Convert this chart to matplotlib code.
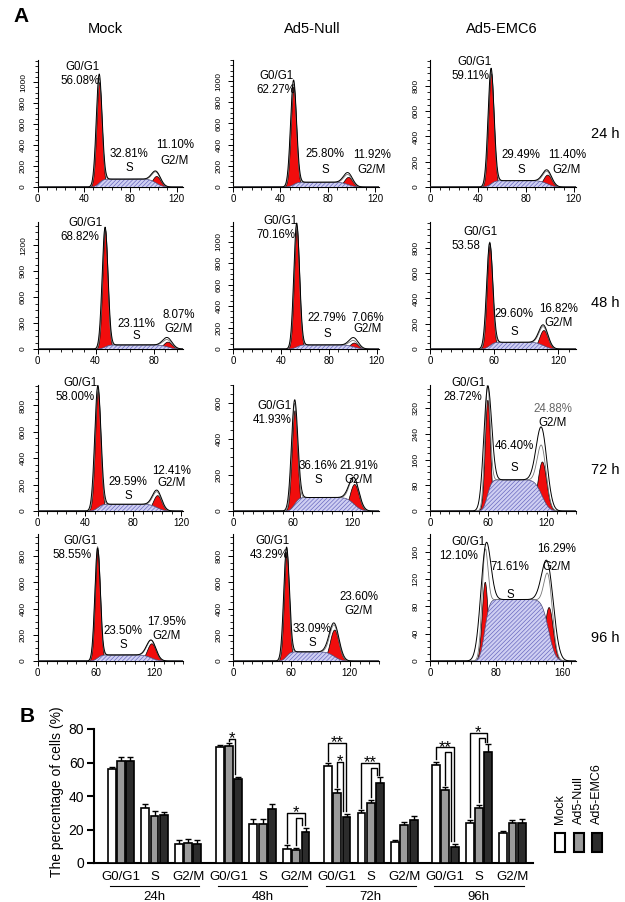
import math
import matplotlib; matplotlib.use('Agg')
import matplotlib.pyplot as plt
import numpy as np
from matplotlib.patches import Rectangle
from matplotlib.ticker import AutoMinorLocator

plt.rcParams['font.family'] = ['Liberation Sans', 'DejaVu Sans']
plt.rcParams['hatch.linewidth'] = 0.5

W, H = 625, 902

# ---------------- panel A data (4 time points x 3 treatments) ----------------
columns = ['Mock', 'Ad5-Null', 'Ad5-EMC6']
times = ['24 h', '48 h', '72 h', '96 h']

g1_pct = [['56.08%', '62.27%', '59.11%'],
          ['68.82%', '70.16%', '53.58'],
          ['58.00%', '41.93%', '28.72%'],
          ['58.55%', '43.29%', '12.10%']]
s_pct = [['32.81%', '25.80%', '29.49%'],
         ['23.11%', '22.79%', '29.60%'],
         ['29.59%', '36.16%', '46.40%'],
         ['23.50%', '33.09%', '71.61%']]
g2_pct = [['11.10%', '11.92%', '11.40%'],
          ['8.07%', '7.06%', '16.82%'],
          ['12.41%', '21.91%', '24.88%'],
          ['17.95%', '23.60%', '16.29%']]

# fitted peaks (channel, count)
g1_mu = [[53.2, 51, 51], [46.5, 53.2, 56], [50.4, 62, 59], [61.7, 55, 66]]
g1_h = [[1000, 950, 900], [1380, 1130, 820], [914, 560, 346], [850, 830, 116]]
g1_sd = [[2.3, 2.3, 2.3], [1.8, 2.2, 2.6], [2.3, 2.8, 2.7], [2.6, 2.6, 3.5]]
g1_raw = [[1038, 988, 915], [1387, 1156, 814], [926, 580, 337], [840, 835, 120]]
g1_raw_sd = [[2.5, 2.5, 2.5], [2.0, 2.4, 2.9], [2.6, 3.2, 4.0], [2.8, 2.9, 6.0]]
s_level = [[75, 45, 50], [47, 38, 53], [51, 75, 97], [46, 70, 90]]
g2_mu = [[102.5, 97, 98], [89.5, 101, 106.5], [100, 122, 115], [117, 104, 143]]
g2_h = [[105, 95, 98], [85, 60, 150], [120, 150, 154], [135, 240, 79]]
g2_sd = [[3.5, 3.5, 3.5], [3.0, 3.5, 4.0], [3.5, 4.5, 4.5], [4.5, 4.5, 5.0]]
g2_raw = [[113, 113, 110], [109, 87, 164], [132, 148, 210], [137, 255, 95]]
g2_raw_sd = [[3.8, 3.8, 3.8], [3.2, 3.8, 4.3], [3.8, 5.0, 5.5], [4.8, 5.0, 7.0]]

x_max = [[126, 123, 122], [100.5, 122, 137], [122, 147, 150], [150, 150, 176]]
x_step = [[40, 40, 40], [40, 40, 60], [40, 60, 60], [60, 60, 80]]
y_max = [[1210, 1200, 1005], [1470, 1185, 1005], [955, 700, 392], [970, 970, 186]]
y_step = [[200, 200, 200], [300, 200, 200], [200, 200, 80], [200, 200, 40]]
y_top_tick = [[1000, 1000, 800], [1200, 1000, 800], [800, 600, 320], [800, 800, 160]]

# ---------------- panel B data ----------------
phases = ['G0/G1', 'S', 'G2/M']
groups = ['24h', '48h', '72h', '96h']
mock_vals = [56, 33, 11.5, 69, 23.5, 8.5, 58, 30, 12.5, 58.5, 23.8, 17.9]
null_vals = [61, 28, 12, 70, 23.5, 7.5, 42, 35.8, 22.7, 43.6, 32.8, 23.9]
emc6_vals = [61, 28.5, 11.5, 50, 32.5, 18.5, 27.5, 47.7, 25.7, 9.5, 66.5, 24]
mock_err = [1.5, 2, 2, 1.5, 3, 2, 1.5, 1.5, 1.5, 2, 2, 1.5]
null_err = [2, 3, 2.5, 1.5, 2.5, 1.5, 2, 2, 2, 1.5, 2, 2]
emc6_err = [2, 2, 2.5, 1.5, 2.5, 2.5, 2, 3.5, 2.5, 2, 4.5, 2.5]
# (group, phase, bar from, bar to, bracket level, label)
sig = [(1, 0, 1, 2, 74, '*'),
       (1, 2, 0, 2, 29.9, '*'), (1, 2, 1, 2, 26.9, ''),
       (2, 0, 0, 2, 71.6, '**'), (2, 0, 1, 2, 60.3, '*'),
       (2, 1, 0, 2, 60, '**'), (2, 1, 1, 2, 56.5, ''),
       (3, 0, 0, 2, 69, '**'), (3, 0, 1, 2, 66.3, ''),
       (3, 1, 0, 2, 77.7, '*'), (3, 1, 1, 2, 74.7, '')]

# ---------------- layout (figure pixels) ----------------
row_top = [60, 222, 385, 534]
row_bot = [187, 349, 511, 661]
col_left = [37.5, 233, 430]
AXW = 146
g1_lab = [[(99, 100, 74), (293, 295, 83), (492, 489, 69)],
          [(102, 99, 230), (297, 295, 228), (498, 480, 239)],
          [(98, 95, 390), (291, 292, 413), (485, 482, 390)],
          [(98, 92, 548), (289, 289, 548), (485, 478, 549)]]
s_lab = [[(129, 161, 14), (325, 162, 16), (521, 162, 15)],
         [(136, 330, 12), (327, 326, 16), (514, 323, 18)],
         [(128, 489, 14), (318, 473, 14), (514, 457, 22)],
         [(123, 638, 14), (312, 636, 14), (510, 581, 28)]]
g2_lab = [[(175, 153, 15), (372, 162, 15), (567, 162, 15)],
          [(179, 322, 15), (368, 324, 11), (559, 316, 14)],
          [(172, 477, 12), (359, 473, 14), (553, 416, 15)],
          [(167, 629, 14), (359, 604, 14), (557, 558, 17)]]
time_y = [134, 303, 470, 638]

RED = '#f10d0d'
LAB = 8.3


def fx(px):
    return px / W


def fy(py):
    return 1 - py / H


def gauss(x, mu, h, sd):
    return h * np.exp(-0.5 * ((x - mu) / sd) ** 2)


def erf(v):
    return np.array([math.erf(t) for t in v])


fig = plt.figure(figsize=(W / 100, H / 100), dpi=100)

fig.text(fx(13), fy(17), 'A', fontsize=15, fontweight='bold', va='center')
for c, (name, cx) in enumerate(zip(columns, [105, 312, 502])):
    fig.text(fx(cx), fy(29), name, fontsize=10.5, ha='center', va='center')
for r in range(4):
    fig.text(fx(591), fy(time_y[r]), times[r], fontsize=10.5, va='center')

for r in range(4):
    for c in range(3):
        top, bot = row_top[r], row_bot[r]
        ax = fig.add_axes([fx(col_left[c]), fy(bot), AXW / W, (bot - top) / H])
        x = np.linspace(0, x_max[r][c], 900)
        g1 = gauss(x, g1_mu[r][c], g1_h[r][c], g1_sd[r][c])
        g2 = gauss(x, g2_mu[r][c], g2_h[r][c], g2_sd[r][c])
        s = s_level[r][c] * 0.5 * (
            erf((x - g1_mu[r][c]) / (math.sqrt(2) * g1_sd[r][c] * 1.3))
            - erf((x - g2_mu[r][c]) / (math.sqrt(2) * g2_sd[r][c] * 1.3)))
        raw = (gauss(x, g1_mu[r][c], g1_raw[r][c], g1_raw_sd[r][c]) + s
               + gauss(x, g2_mu[r][c], g2_raw[r][c], g2_raw_sd[r][c]))
        model = g1 + s + g2

        ax.fill_between(x, 0, g1, facecolor=RED, edgecolor='black', lw=0.5, zorder=2)
        ax.fill_between(x, 0, g2, facecolor=RED, edgecolor='black', lw=0.5, zorder=2)
        ax.fill_between(x, 0, s, facecolor='#cfcff2', edgecolor='#6a6ac0',
                        hatch='////////', lw=0, zorder=3)
        ax.plot(x, s, color='#4a4a78', lw=0.5, zorder=4)
        ax.plot(x, model, color='#777777', lw=0.6, zorder=4)
        ax.plot(x, raw, color='black', lw=0.7, zorder=5)

        ax.set_xlim(0, x_max[r][c])
        ax.set_ylim(0, y_max[r][c])
        ax.set_xticks(np.arange(0, x_max[r][c] + 0.01, x_step[r][c]))
        ax.set_yticks(np.arange(0, y_top_tick[r][c] + 1, y_step[r][c]))
        ax.xaxis.set_minor_locator(AutoMinorLocator({40: 5, 60: 6, 80: 8}[x_step[r][c]]))
        ax.yaxis.set_minor_locator(AutoMinorLocator(4))
        for side in ['top', 'right']:
            ax.spines[side].set_visible(False)
        for side in ['left', 'bottom']:
            ax.spines[side].set_linewidth(0.8)
        ax.tick_params(which='major', length=3.5, width=0.7, direction='out')
        ax.tick_params(which='minor', length=2, width=0.6, direction='out')
        ax.tick_params(axis='x', labelsize=7, pad=1.5)
        ax.tick_params(axis='y', labelsize=6, pad=4, labelrotation=90)
        for lab in ax.get_yticklabels():
            lab.set_va('center')

        # phase labels
        xr1, xr2, yc = g1_lab[r][c]
        fig.text(fx(xr1), fy(yc - 7), 'G0/G1', fontsize=LAB, ha='right', va='center')
        fig.text(fx(xr2), fy(yc + 7), g1_pct[r][c], fontsize=LAB, ha='right', va='center')
        sx, sy, gap = s_lab[r][c]
        fig.text(fx(sx), fy(sy - gap / 2), s_pct[r][c], fontsize=LAB, ha='center', va='center')
        fig.text(fx(sx), fy(sy + gap / 2), 'S', fontsize=LAB, ha='center', va='center')
        gx, gy, gap = g2_lab[r][c]
        pct_col = '#666666' if (r, c) == (2, 2) else 'black'
        fig.text(fx(gx), fy(gy - gap / 2), g2_pct[r][c], fontsize=LAB, ha='center',
                 va='center', color=pct_col)
        fig.text(fx(gx), fy(gy + gap / 2), 'G2/M', fontsize=LAB, ha='center', va='center')

# ---------------- panel B ----------------
fig.text(fx(20), fy(717), 'B', fontsize=15, fontweight='bold', va='center')
axb = fig.add_axes([fx(94), fy(863), (533 - 94) / W, (863 - 729) / H])
GSTEP, CSTEP = 11.6, 3.6
centers = np.array([g * GSTEP + k * CSTEP for g in range(4) for k in range(3)])
series = [(mock_vals, mock_err, 'white'), (null_vals, null_err, '#9b9b9b'),
          (emc6_vals, emc6_err, '#2c2c2c')]
for j, (vals, errs, colr) in enumerate(series):
    xs = centers + (j - 1)
    axb.bar(xs, vals, width=0.84, color=colr, edgecolor='black', lw=1.2, zorder=3)
    axb.errorbar(xs, vals, yerr=[np.zeros(len(vals)), errs], fmt='none',
                 ecolor='black', elinewidth=1, capsize=2.5, capthick=1, zorder=2)

for g, k, a, b, lev, star in sig:
    i = g * 3 + k
    vals = [mock_vals[i], null_vals[i], emc6_vals[i]]
    errs = [mock_err[i], null_err[i], emc6_err[i]]
    xa = centers[i] + (a - 1)
    xb = centers[i] + (b - 1) - (0.1 if a == 0 else 0.35)
    ya = vals[a] + errs[a] + 1.5
    yb = vals[b] + errs[b] + 1.5
    axb.plot([xa, xa, xb, xb], [ya, lev, lev, yb], color='black', lw=1,
             clip_on=False, zorder=4)
    if star:
        axb.text((xa + xb) / 2, lev - 2.6, star, fontsize=12, ha='center',
                 va='baseline', clip_on=False)

axb.set_xlim(-2.89, 44.2)
axb.set_ylim(0, 80)
axb.set_yticks(np.arange(0, 81, 20))
axb.set_xticks(centers)
axb.set_xticklabels(phases * 4)
for side in ['top', 'right']:
    axb.spines[side].set_visible(False)
for side in ['left', 'bottom']:
    axb.spines[side].set_linewidth(1.5)
axb.tick_params(axis='y', length=5, width=1.5, labelsize=10, pad=2)
axb.tick_params(axis='x', length=0, labelsize=9.5, pad=6)
tr = axb.get_xaxis_transform()
for g, name in enumerate(groups):
    x0 = g * GSTEP - 1.2
    x1 = g * GSTEP + 2 * CSTEP + 1.2
    axb.plot([x0, x1], [-0.172, -0.172], color='black', lw=0.8, transform=tr,
             clip_on=False)
    axb.text(g * GSTEP + CSTEP, -0.255, name, transform=tr, fontsize=9.5,
             ha='center', va='center')
fig.text(fx(57), fy(792), 'The percentage of cells (%)', rotation=90,
         fontsize=10, ha='center', va='center')

# legend
for name, colr, lx in zip(columns, ['white', '#9b9b9b', '#2c2c2c'], [555, 573.5, 592]):
    fig.add_artist(Rectangle((fx(lx), fy(852)), 10 / W, 19 / H, transform=fig.transFigure,
                             facecolor=colr, edgecolor='black', lw=1.5))
    fig.text(fx(lx + 5), fy(824), name, rotation=90, fontsize=9, ha='center',
             va='bottom')

fig.savefig('out.png', dpi=100)
